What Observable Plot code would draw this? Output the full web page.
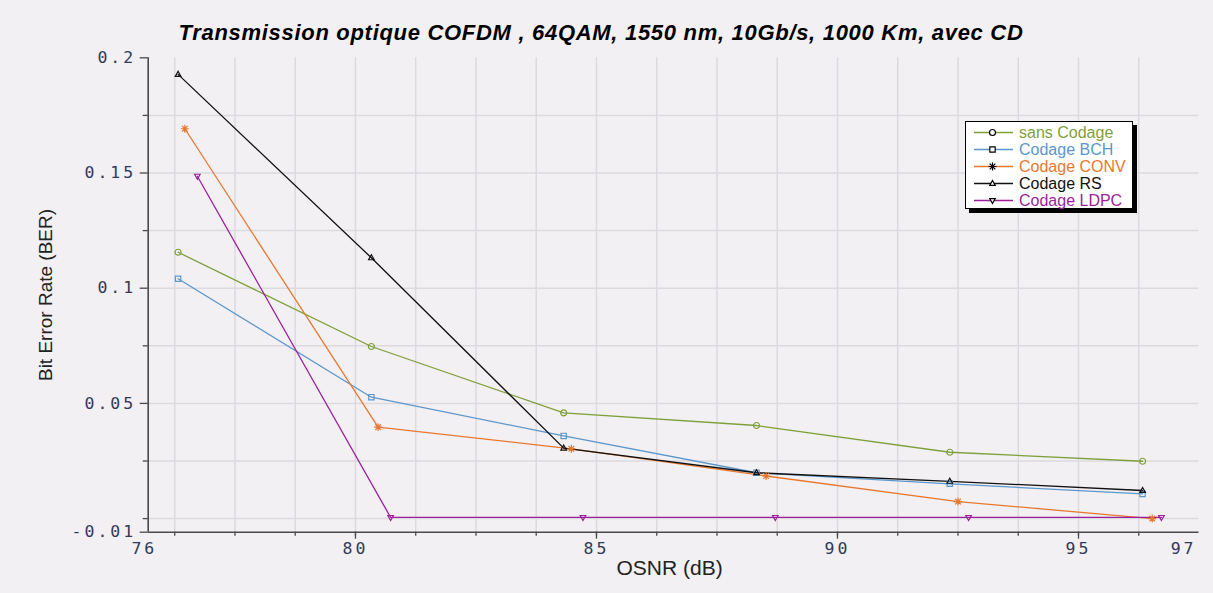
<!DOCTYPE html>
<html><head><meta charset="utf-8">
<script src="https://cdn.jsdelivr.net/npm/d3@7"></script>
<script src="https://cdn.jsdelivr.net/npm/@observablehq/plot@0.6"></script>
<style>
html,body{margin:0;padding:0;background:#f2f0f3;}
#wrap{position:relative;width:1213px;height:593px;overflow:hidden;background:#f2f0f3;}
#title{position:absolute;top:20px;left:0;width:1202px;text-align:center;font:italic bold 22px "Liberation Sans",Arial,sans-serif;letter-spacing:0.7px;line-height:26px;color:#000;}
#chart{position:absolute;top:45px;left:0;}
#chart g[aria-label="y-axis tick label"] text,#chart g[aria-label="x-axis tick label"] text{letter-spacing:3px;}
#legend{position:absolute;left:965px;top:121px;width:166px;height:86px;background:#fff;border:1px solid #000;box-shadow:4px 4px 0 #000;font:16px "Liberation Sans",Arial,sans-serif;}
.row{position:absolute;left:0;height:17px;width:166px;}
.row svg{position:absolute;left:0;top:0;}
.row span{position:absolute;left:53px;top:0;line-height:17px;white-space:nowrap;}
</style></head><body>
<div id="wrap">
<div id="title">Transmission optique COFDM , 64QAM, 1550 nm, 10Gb/s, 1000 Km, avec CD</div>
<div id="chart"></div>
<div id="legend"></div>
</div>
<script>
// ---- data ----
const seriesNames = ["sans Codage", "Codage BCH", "Codage CONV", "Codage RS", "Codage LDPC"];
const seriesColors = ["#7f9f3a", "#5b97cc", "#e8782e", "#111111", "#9c1f9c"];
const osnrBase = [76.32, 80.33, 84.32, 88.32, 92.33, 96.33];
const osnrConv = [76.46, 80.47, 84.48, 88.52, 92.50, 96.53];
const osnrLdpc = [76.72, 80.73, 84.72, 88.71, 92.72, 96.72];
const berSans = [0.1156, 0.0747, 0.0459, 0.0404, 0.0288, 0.0249];
const berBch  = [0.1041, 0.0527, 0.0359, 0.0199, 0.0151, 0.0107];
const berConv = [0.1692, 0.0397, 0.0303, 0.0185, 0.0074, 0.0000];
const berRs   = [0.1928, 0.1132, 0.0306, 0.0199, 0.0162, 0.0122];
const berLdpc = [0.1486, 0.0005, 0.0005, 0.0005, 0.0005, 0.0005];
const xGridValues = [76.25, 77.5, 78.75, 80, 81.25, 82.5, 83.75, 85, 86.25, 87.5, 88.75, 90, 91.25, 92.5, 93.75, 95, 96.25];
const xMajorTicks = [80, 85, 90, 95];
const xLabelPos = [75.62, 80, 85, 90, 95, 97.18];
const xLabelText = ["76", "80", "85", "90", "95", "97"];
const yGridValues = [0, 0.025, 0.05, 0.075, 0.1, 0.125, 0.15, 0.175];
const yLabelPos = [-0.0059, 0.05, 0.1, 0.15, 0.2];
const yLabelText = ["-0.01", "0.05", "0.1", "0.15", "0.2"];
const xDomain = [75.7, 97.5];
const yDomain = [-0.0059, 0.2];

const seriesX = [osnrBase, osnrBase, osnrConv, osnrBase, osnrLdpc];
const seriesY = [berSans, berBch, berConv, berRs, berLdpc];
const rows = seriesNames.flatMap((name, k) => seriesY[k].map((v, i) => ({series: name, osnr: seriesX[k][i], ber: v})));

// ---- custom symbols ----
const star8 = {draw(ctx, size) {
  const r = Math.sqrt(size) * 0.75;
  for (let a = 0; a < 4; a++) {
    const t = a * Math.PI / 4;
    ctx.moveTo(-r * Math.cos(t), -r * Math.sin(t));
    ctx.lineTo(r * Math.cos(t), r * Math.sin(t));
  }
}};
const triUp = {draw(ctx, size) {
  const s = Math.sqrt(size) * 1.05;
  ctx.moveTo(0, -s * 0.55); ctx.lineTo(s / 2, s * 0.35); ctx.lineTo(-s / 2, s * 0.35); ctx.closePath();
}};
const triDown = {draw(ctx, size) {
  const s = Math.sqrt(size) * 1.05;
  ctx.moveTo(0, s * 0.55); ctx.lineTo(s / 2, -s * 0.35); ctx.lineTo(-s / 2, -s * 0.35); ctx.closePath();
}};
const sq = {draw(ctx, size) {
  const h = Math.sqrt(size) * 0.5;
  ctx.rect(-h, -h, 2 * h, 2 * h);
}};
const seriesSymbols = [d3.symbolCircle, sq, star8, triUp, triDown];

const xLab = new Map(xLabelPos.map((v, i) => [v, xLabelText[i]]));
const yLab = new Map(yLabelPos.map((v, i) => [v, yLabelText[i]]));
const gridColor = "#dcdadf";
const axisColor = "#4a4a4a";
const tickFont = {fontFamily: "DejaVu Sans Mono, monospace", fontSize: 16.5, fill: "#2f3b58"};

const chart = Plot.plot({
  width: 1213, height: 548,
  marginTop: 12.3, marginBottom: 61.3, marginLeft: 147.7, marginRight: 14.5,
  style: {background: "transparent", fontFamily: "Liberation Sans, Arial, sans-serif", overflow: "visible"},
  x: {domain: xDomain, label: null},
  y: {domain: yDomain, label: null},
  color: {domain: seriesNames, range: seriesColors},
  symbol: {domain: seriesNames, range: seriesSymbols},
  marks: [
    Plot.ruleY(yGridValues, {stroke: gridColor, strokeWidth: 1.5}),
    Plot.ruleX(xGridValues, {stroke: gridColor, strokeWidth: 1.5}),
    Plot.axisX(xGridValues, {tickSize: 4, tickFormat: () => "", stroke: axisColor, strokeWidth: 1.3}),
    Plot.axisX(xMajorTicks, {tickSize: 7, tickFormat: () => "", stroke: axisColor, strokeWidth: 1.3}),
    Plot.axisX(xLabelPos, {tickSize: 0, tickPadding: 10, tickFormat: d => xLab.get(d), ...tickFont}),
    Plot.axisY(yGridValues.filter(v => !yLabelPos.includes(v)), {tickSize: 5, tickFormat: () => "", stroke: axisColor, strokeWidth: 1.3}),
    Plot.axisY(yLabelPos, {tickSize: 8, tickPadding: 4, tickFormat: d => yLab.get(d), stroke: axisColor, strokeWidth: 1.3, ...tickFont}),
    Plot.ruleX([xDomain[0]], {stroke: axisColor, strokeWidth: 1.6}),
    Plot.ruleY([yDomain[0]], {stroke: axisColor, strokeWidth: 1.6}),
    Plot.line(rows, {x: "osnr", y: "ber", z: "series", stroke: "series", strokeWidth: 1.3}),
    Plot.dot(rows, {x: "osnr", y: "ber", symbol: "series", stroke: "series", fill: "none", r: 3, strokeWidth: 1.2}),
    Plot.text(["Bit Error Rate (BER)"], {frameAnchor: "left", dx: -102.7, rotate: -90, fontSize: 19, fill: "#222", textAnchor: "middle"}),
    Plot.text(["OSNR (dB)"], {frameAnchor: "bottom", dx: -4, dy: 43, fontSize: 21, fill: "#222", textAnchor: "middle"})
  ]
});
document.getElementById("chart").appendChild(chart);

// ---- legend ----
const legend = document.getElementById("legend");
seriesNames.forEach((name, i) => {
  const row = document.createElement("div");
  row.className = "row";
  row.style.top = (2 + i * 16.9) + "px";
  const path = d3.symbol(seriesSymbols[i], 28.3)();
  row.innerHTML = `<svg width="52" height="17"><line x1="8" x2="47" y1="8.5" y2="8.5" stroke="${seriesColors[i]}" stroke-width="1.3"/>` +
    `<path d="${path}" transform="translate(26.5,8.5)" fill="#fff" stroke="#000" stroke-width="1.2"/></svg>` +
    `<span style="color:${seriesColors[i]}">${name}</span>`;
  legend.appendChild(row);
});
</script>
</body></html>
